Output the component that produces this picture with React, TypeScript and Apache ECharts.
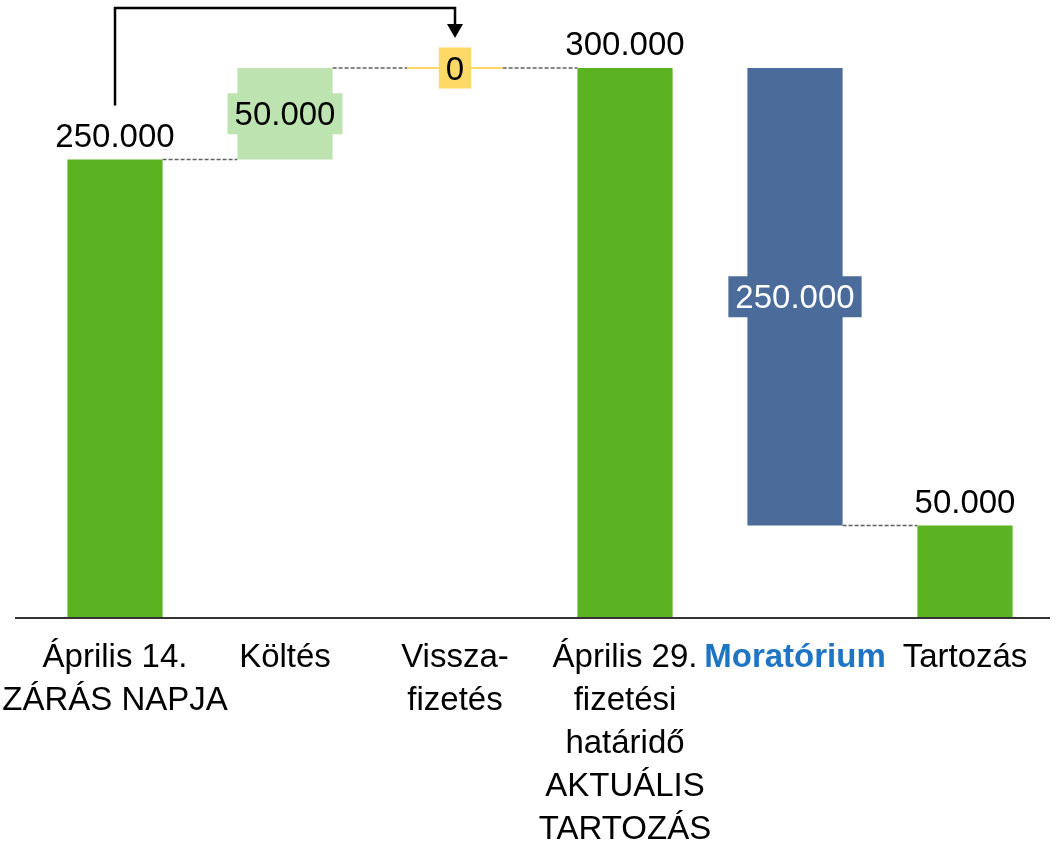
import React, { useEffect, useRef } from "react";
import * as echarts from "echarts";

const categories = [
  "Április 14.\nZÁRÁS NAPJA",
  "Költés",
  "Vissza-\nfizetés",
  "Április 29.\nfizetési\nhatáridő\nAKTUÁLIS\nTARTOZÁS",
  "Moratórium",
  "Tartozás",
];
const changes = [250000, 50000, 0, 300000, -250000, 50000];
const isTotal = [true, false, false, true, false, true];
const connectorsFrom = [0, 1, 2, 4];

const FONT = "'Liberation Sans Narrow', 'Liberation Sans', sans-serif";
const GREEN = "#5BB322";
const LIGHT_GREEN = "#BDE3B0";
const YELLOW = "#FFD966";
const BLUE = "#4B6B9A";

function fmt(v: number) {
  return String(Math.abs(v)).replace(/\B(?=(\d{3})+(?!\d))/g, ".");
}

export default function App() {
  const ref = useRef<HTMLDivElement>(null);
  useEffect(() => {
    if (!ref.current) return;
    const chart = echarts.init(ref.current, null, { renderer: "svg" });

    const bases: number[] = [];
    const heights: number[] = [];
    const after: number[] = [];
    let running = 0;
    changes.forEach((v, i) => {
      if (isTotal[i]) {
        bases.push(0);
        heights.push(v);
        running = v;
      } else if (v >= 0) {
        bases.push(running);
        heights.push(v);
        running += v;
      } else {
        bases.push(running + v);
        heights.push(-v);
        running += v;
      }
      after.push(running);
    });

    const colorFor = (i: number) =>
      isTotal[i] ? GREEN : changes[i] > 0 ? LIGHT_GREEN : changes[i] === 0 ? YELLOW : BLUE;

    const barData = heights.map((h, i) => {
      const total = isTotal[i];
      const c = colorFor(i);
      return {
        value: h,
        itemStyle: { color: c },
        label: total
          ? { position: "top", distance: 4, backgroundColor: "transparent", color: "#000" }
          : {
              position: "inside",
              backgroundColor: c,
              color: changes[i] < 0 ? "#fff" : "#000",
              padding: [0, 7],
            },
      };
    });

    const connectorData = connectorsFrom.map((i) => [i, after[i]]);
    const zeroData = changes
      .map((v, i) => (!isTotal[i] && v === 0 ? [i, after[i]] : null))
      .filter((d) => d !== null);

    chart.setOption({
      animation: false,
      grid: {
        left: 30,
        right: 6,
        top: 68,
        bottom: 232,
        containLabel: false,
        outerBoundsMode: "none",
      },
      xAxis: {
        type: "category",
        data: categories,
        axisLine: { show: false },
        axisTick: { show: false },
        axisLabel: {
          interval: 0,
          margin: 17,
          fontFamily: FONT,
          fontSize: 33,
          lineHeight: 43,
          color: "#000",
          formatter: (v: string) => (v === "Moratórium" ? `{b|${v}}` : v),
          rich: {
            b: {
              color: "#1F74C4",
              fontWeight: "bold",
              fontFamily: FONT,
              fontSize: 33,
              lineHeight: 43,
            },
          },
        },
      },
      yAxis: { type: "value", min: 0, max: 300000, show: false, splitLine: { show: false } },
      series: [
        {
          type: "bar",
          stack: "wf",
          barWidth: "56%",
          data: bases,
          itemStyle: { color: "transparent" },
          silent: true,
        },
        {
          type: "bar",
          stack: "wf",
          barWidth: "56%",
          data: barData,
          label: {
            show: true,
            fontFamily: FONT,
            fontSize: 33,
            lineHeight: 41,
            formatter: (p: any) => fmt(p.value),
          },
        },
        {
          type: "custom",
          z: 1,
          data: connectorData,
          renderItem: (params: any, api: any) => {
            const i = api.value(0);
            const lvl = api.value(1);
            const p1 = api.coord([i, lvl]);
            const p2 = api.coord([i + 1, lvl]);
            const half = (api.size([1, 0])[0] * 0.56) / 2;
            return {
              type: "line",
              shape: { x1: p1[0] + half, y1: p1[1], x2: p2[0] - half, y2: p2[1] },
              style: { stroke: "#5f5f5f", lineWidth: 1.3, lineDash: [4, 2] },
            };
          },
        },
        {
          type: "custom",
          z: 1,
          data: zeroData,
          renderItem: (params: any, api: any) => {
            const i = api.value(0);
            const lvl = api.value(1);
            const p = api.coord([i, lvl]);
            const half = (api.size([1, 0])[0] * 0.56) / 2;
            return {
              type: "line",
              shape: { x1: p[0] - half, y1: p[1], x2: p[0] + half, y2: p[1] },
              style: { stroke: YELLOW, lineWidth: 2 },
            };
          },
        },
      ],
    });

    const zero0 = chart.convertToPixel({ xAxisIndex: 0, yAxisIndex: 0 }, [0, 0]) as number[];
    const last = chart.convertToPixel({ xAxisIndex: 0, yAxisIndex: 0 }, [categories.length - 1, 0]) as number[];
    const from = chart.convertToPixel({ xAxisIndex: 0, yAxisIndex: 0 }, [0, after[0]]) as number[];
    const to = chart.convertToPixel({ xAxisIndex: 0, yAxisIndex: 0 }, [2, after[2]]) as number[];
    const topY = 8;

    chart.setOption({
      graphic: [
        {
          type: "line",
          shape: { x1: zero0[0] - 100, y1: zero0[1] + 1, x2: last[0] + 85, y2: zero0[1] + 1 },
          style: { stroke: "#333", lineWidth: 2 },
        },
        {
          type: "polyline",
          shape: {
            points: [
              [from[0], from[1] - 54],
              [from[0], topY],
              [to[0], topY],
              [to[0], to[1] - 43],
            ],
          },
          style: { stroke: "#000", lineWidth: 2.5, fill: "none" },
        },
        {
          type: "polygon",
          shape: {
            points: [
              [to[0] - 8, to[1] - 44],
              [to[0] + 8, to[1] - 44],
              [to[0], to[1] - 30],
            ],
          },
          style: { fill: "#000" },
        },
      ],
    });

    return () => chart.dispose();
  }, []);
  return (
    <div
      ref={ref}
      style={{ position: "fixed", left: 0, top: 0, width: 1056, height: 849 }}
    />
  );
}
